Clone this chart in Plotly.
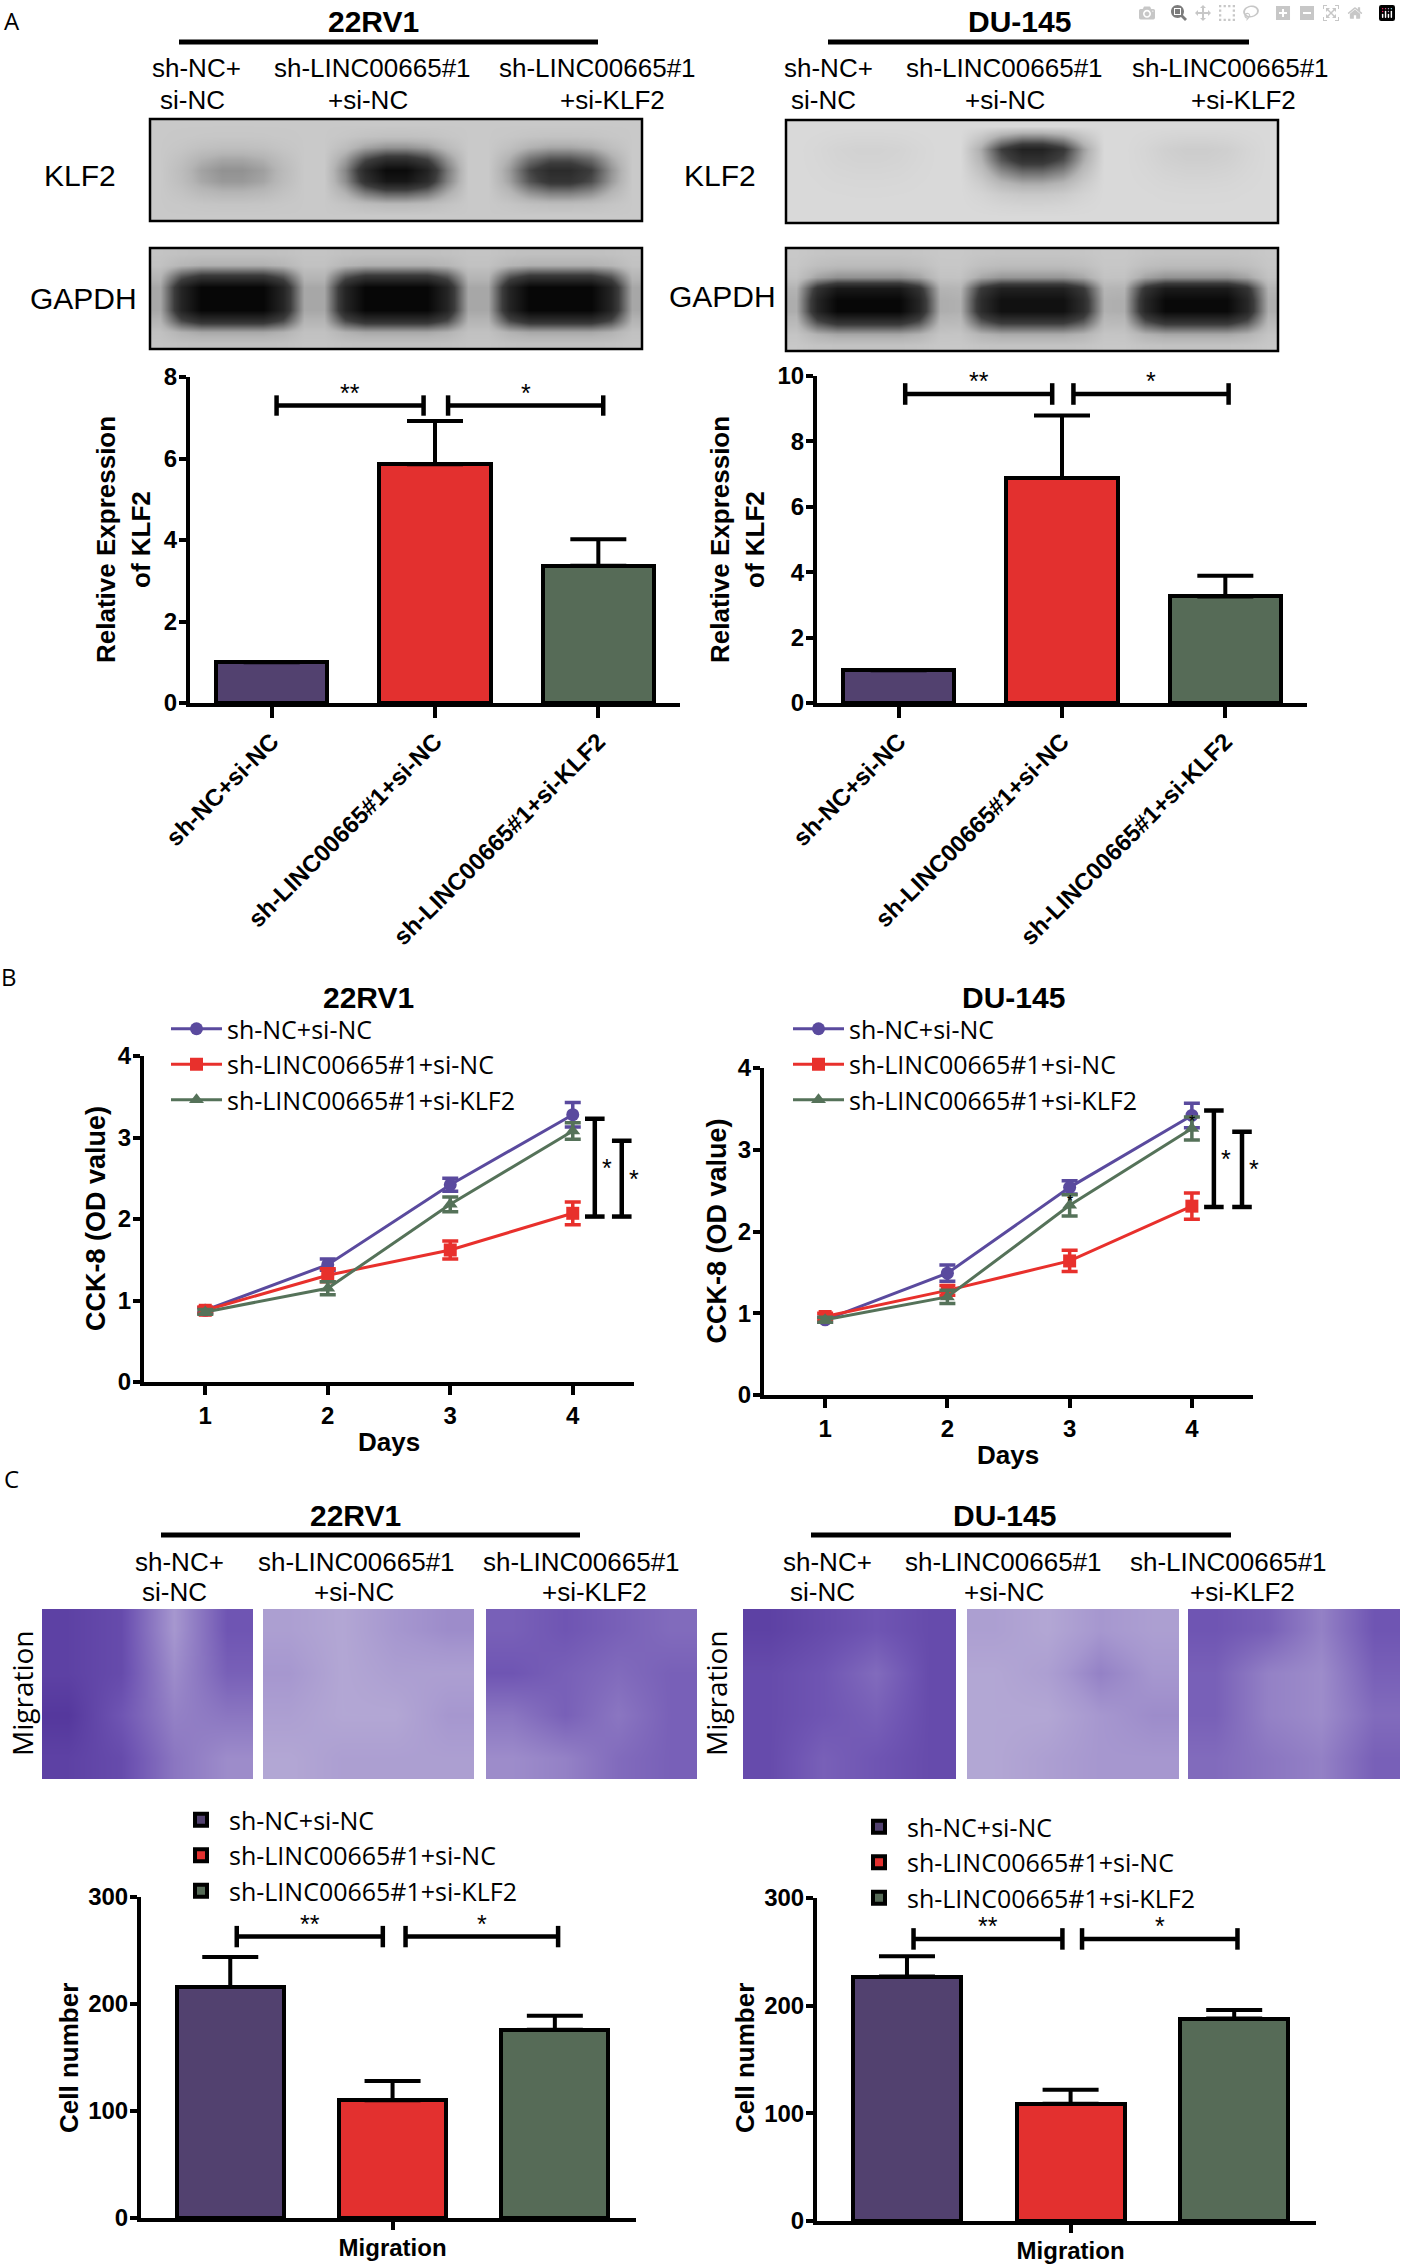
import plotly.graph_objects as go

W, H = 1401, 2266
SANS = "Liberation Sans, Arial, sans-serif"
LEG = "Open Sans, sans-serif"

groups = ["sh-NC+si-NC", "sh-LINC00665#1+si-NC", "sh-LINC00665#1+si-KLF2"]
lane_top = ["sh-NC+", "sh-LINC00665#1", "sh-LINC00665#1"]
lane_bottom = ["si-NC", "+si-NC", "+si-KLF2"]
bar_colors = ["#52416f", "#e3302f", "#566b57"]
line_colors = ["#5a4a9e", "#e8302c", "#557259"]
line_symbols = ["circle", "square", "triangle-up"]

# western blot band intensity per lane (0 = no band, 1 = saturated)
wb_klf2_22rv1 = [0.25, 0.97, 0.7]
wb_gapdh_22rv1 = [1.0, 1.0, 1.0]
wb_klf2_du145 = [0.04, 0.8, 0.07]
wb_gapdh_du145 = [1.0, 0.92, 0.98]

# relative expression of KLF2 (mean, SD)
klf2_22rv1 = [1.0, 5.86, 3.37]
klf2_22rv1_sd = [0.0, 1.06, 0.65]
klf2_du145 = [1.0, 6.88, 3.26]
klf2_du145_sd = [0.0, 1.91, 0.63]

# CCK-8 OD values
days = [1, 2, 3, 4]
cck8_22rv1 = [[0.88, 1.44, 2.42, 3.28], [0.88, 1.31, 1.62, 2.07], [0.86, 1.15, 2.18, 3.08]]
cck8_22rv1_sd = [[0.03, 0.07, 0.08, 0.15], [0.04, 0.08, 0.11, 0.14], [0.03, 0.08, 0.09, 0.10]]
cck8_du145 = [[0.92, 1.49, 2.54, 3.42], [0.96, 1.28, 1.64, 2.31], [0.92, 1.20, 2.32, 3.26]]
cck8_du145_sd = [[0.03, 0.10, 0.08, 0.15], [0.04, 0.06, 0.13, 0.16], [0.03, 0.08, 0.13, 0.14]]

# transwell crystal-violet density, coarse 4x4 reading of each photo (top row first)
stain_22rv1 = [
    [[0.85, 0.80, 0.45, 0.75], [0.85, 0.80, 0.50, 0.70], [0.90, 0.75, 0.55, 0.60], [0.85, 0.80, 0.60, 0.50]],
    [[0.40, 0.35, 0.45, 0.50], [0.45, 0.35, 0.40, 0.40], [0.40, 0.35, 0.35, 0.45], [0.35, 0.40, 0.40, 0.40]],
    [[0.70, 0.75, 0.70, 0.65], [0.75, 0.70, 0.65, 0.70], [0.60, 0.70, 0.60, 0.70], [0.50, 0.55, 0.65, 0.70]],
]
stain_du145 = [
    [[0.85, 0.80, 0.75, 0.80], [0.80, 0.75, 0.65, 0.80], [0.80, 0.75, 0.70, 0.80], [0.80, 0.70, 0.75, 0.80]],
    [[0.40, 0.35, 0.45, 0.40], [0.35, 0.40, 0.55, 0.45], [0.35, 0.35, 0.45, 0.50], [0.35, 0.40, 0.45, 0.45]],
    [[0.75, 0.70, 0.55, 0.75], [0.70, 0.55, 0.50, 0.70], [0.70, 0.55, 0.50, 0.65], [0.65, 0.60, 0.55, 0.70]],
]

# migrated cell number (mean, SD)
mig_22rv1 = [216, 110, 176]
mig_22rv1_sd = [28, 18, 13]
mig_du145 = [227, 109, 188]
mig_du145_sd = [19, 13, 8]

# significance: (from, to, level, label)
sig_klf2_22rv1 = [(0.03, 0.93, 7.3, "**"), (1.08, 2.03, 7.3, "*")]
sig_klf2_du145 = [(0.04, 0.94, 9.45, "**"), (1.07, 2.02, 9.45, "*")]
sig_mig_22rv1 = [(-0.96, -0.06, 263, "**"), (0.08, 1.02, 263, "*")]
sig_mig_du145 = [(-0.96, -0.05, 262, "**"), (0.07, 1.02, 262, "*")]
# vertical brackets on day 4: (x, from, to, label)
sig_cck8_22rv1 = [(4.18, 2.03, 3.23, "*"), (4.40, 2.03, 2.96, "*")]
sig_cck8_du145 = [(4.18, 2.30, 3.48, "*"), (4.41, 2.30, 3.22, "*")]

fig = go.Figure()
n_ax = 0


def axes(x0, x1, top, bottom):
    """new x/y pair placed on a pixel box"""
    global n_ax
    n_ax += 1
    s = "" if n_ax == 1 else str(n_ax)
    fig.update_layout({
        "xaxis" + s: dict(domain=[x0 / W, x1 / W], anchor="y" + s, automargin=False),
        "yaxis" + s: dict(domain=[1 - bottom / H, 1 - top / H], anchor="x" + s, automargin=False),
    })
    return "x" + s, "y" + s, s


def text(x, y, s, size, bold=False, family=SANS, angle=0, xanchor="center"):
    fig.add_annotation(
        x=x / W, y=1 - y / H, xref="paper", yref="paper", text=s, showarrow=False,
        font=dict(size=size, family=family, color="black", weight="bold" if bold else "normal"),
        textangle=angle, xanchor=xanchor, yanchor="middle",
    )


def hline(x0, x1, y, width=5):
    fig.add_shape(type="line", xref="paper", yref="paper", x0=x0 / W, x1=x1 / W,
                  y0=1 - y / H, y1=1 - y / H, line=dict(color="black", width=width))


def seg(xr, yr, x0, y0, x1, y1, width=4.5):
    fig.add_shape(type="line", xref=xr, yref=yr, x0=x0, y0=y0, x1=x1, y1=y1,
                  line=dict(color="black", width=width))


def hbracket(xr, yr, sig, cap):
    for a, b, lvl, lab in sig:
        seg(xr, yr, a, lvl, b, lvl)
        seg(xr, yr, a, lvl - cap, a, lvl + cap)
        seg(xr, yr, b, lvl - cap, b, lvl + cap)
        fig.add_annotation(x=(a + b) / 2, y=lvl, xref=xr, yref=yr, text=lab, showarrow=False,
                           yanchor="bottom", yshift=-3, font=dict(size=25, family=SANS, color="black"))


def vbracket(xr, yr, sig, cap):
    for x, a, b, lab in sig:
        seg(xr, yr, x, a, x, b)
        seg(xr, yr, x - cap, a, x + cap, a)
        seg(xr, yr, x - cap, b, x + cap, b)
        fig.add_annotation(x=x + 0.04, y=(a + b) / 2, xref=xr, yref=yr, text=lab, showarrow=False,
                           xanchor="left", font=dict(size=25, family=SANS, color="black"))


def hidden(s):
    fig.update_layout({
        "xaxis" + s: dict(range=[0, 1], visible=False, fixedrange=True),
        "yaxis" + s: dict(range=[0, 1], visible=False, fixedrange=True),
    })


def frame(s):
    xr = "x" + s + " domain" if s else "x domain"
    yr = "y" + s + " domain" if s else "y domain"
    fig.add_shape(type="rect", xref=xr, yref=yr, x0=0, x1=1, y0=0, y1=1,
                  line=dict(color="black", width=2.5))


bold_tick = dict(size=24, family=SANS, color="black", weight="bold")
ax_style = dict(showline=True, linewidth=4, linecolor="black", ticks="outside", ticklen=9,
                tickwidth=4, tickcolor="black", showgrid=False, zeroline=False, tickfont=bold_tick,
                automargin=False)
y_style = dict(ax_style, ticklen=7, ticklabelstandoff=-3)


def legend_style(x, y, itemwidth):
    return dict(x=x / W, y=1 - y / H, xanchor="left", yanchor="top", bgcolor="rgba(0,0,0,0)",
                font=dict(family=LEG, size=25, color="black"),
                itemwidth=itemwidth, tracegroupgap=0, traceorder="normal")


# ---------------- A: western blots ----------------
band_cols_klf2 = [0.0, 0.3, 0.75, 1.0, 1.0, 0.8, 0.35, 0.0]
band_cols_gapdh = [0.15, 0.75, 1.0, 1.0, 1.0, 1.0, 0.75, 0.15]
rows_klf2_22rv1 = [0.0, 0.05, 0.25, 0.7, 1.0, 0.9, 0.45, 0.1, 0.0]
rows_klf2_du145 = [0.0, 0.45, 1.0, 0.85, 0.55, 0.3, 0.12, 0.04, 0.0]
rows_gapdh_22rv1 = [0.03, 0.12, 0.6, 1.0, 1.0, 1.0, 0.65, 0.15, 0.03]
rows_gapdh_du145 = [0.03, 0.08, 0.25, 0.85, 1.0, 1.0, 0.65, 0.18, 0.04]
blot_scale = [[0, "#f2f2f2"], [0.3, "#b4b4b4"], [0.65, "#3c3c3c"], [1, "#070707"]]


def blot(box, lanes, bg, rows, cols):
    xr, yr, s = axes(*box)
    hidden(s)
    ncol = len(cols) * len(lanes)
    z = [[bg + (1 - bg) * lane * r * c for lane in lanes for c in cols] for r in rows]
    fig.add_trace(go.Heatmap(
        z=z, x=[(i + 0.5) / ncol for i in range(ncol)],
        y=[1 - (i + 0.5) / len(rows) for i in range(len(rows))],
        colorscale=blot_scale, zmin=0, zmax=1, zsmooth="best", showscale=False,
        hoverinfo="skip", xaxis=xr, yaxis=yr,
    ))
    frame(s)


blot((150, 642, 119, 221), wb_klf2_22rv1, 0.2, rows_klf2_22rv1, band_cols_klf2)
blot((150, 642, 248, 349), wb_gapdh_22rv1, 0.22, rows_gapdh_22rv1, band_cols_gapdh)
blot((786, 1278, 120, 223), wb_klf2_du145, 0.12, rows_klf2_du145, band_cols_klf2)
blot((786, 1278, 248, 351), wb_gapdh_du145, 0.2, rows_gapdh_du145, band_cols_gapdh)

text(12, 20, "A", 24, family=LEG)
text(373, 22, "22RV1", 30, bold=True)
hline(179, 598, 42)
text(1020, 22, "DU-145", 30, bold=True)
hline(828, 1249, 42)
for cx_top, cx_bot, lt, lb in zip([196, 372, 597], [192, 368, 612], lane_top, lane_bottom):
    text(cx_top, 68, lt, 26)
    text(cx_bot, 100, lb, 26)
for cx_top, cx_bot, lt, lb in zip([828, 1004, 1230], [823, 1005, 1243], lane_top, lane_bottom):
    text(cx_top, 68, lt, 26)
    text(cx_bot, 100, lb, 26)
text(80, 175, "KLF2", 30)
text(83, 298, "GAPDH", 30)
text(720, 175, "KLF2", 30)
text(722, 296, "GAPDH", 30)

# ---------------- A: KLF2 bar charts ----------------
def klf2_bars(box, vals, sd, ymax, sig, cap, title_x):
    xr, yr, s = axes(*box)
    fig.add_trace(go.Bar(
        x=list(range(len(vals))), y=vals, width=0.68,
        marker=dict(color=bar_colors, line=dict(color="black", width=4)),
        error_y=dict(type="data", array=sd, arrayminus=[0] * len(sd), symmetric=False,
                     color="black", thickness=4, width=28),
        showlegend=False, xaxis=xr, yaxis=yr,
    ))
    fig.update_layout({
        "xaxis" + s: dict(ax_style, range=[-0.5, 2.5], tickvals=list(range(len(groups))),
                          ticktext=groups, tickangle=-45, ticklen=11),
        "yaxis" + s: dict(y_style, range=[0, ymax], dtick=2),
    })
    hbracket(xr, yr, sig, cap)
    text(title_x[0], 540, "Relative Expression", 26, bold=True, angle=-90)
    text(title_x[1], 540, "of KLF2", 26, bold=True, angle=-90)


klf2_bars((190, 680, 377, 703), klf2_22rv1, klf2_22rv1_sd, 8, sig_klf2_22rv1, 0.25, (106, 141))
klf2_bars((817, 1307, 376, 703), klf2_du145, klf2_du145_sd, 10, sig_klf2_du145, 0.33, (720, 755))

# ---------------- B: CCK-8 curves ----------------
def cck8(box, series, sds, sig, legend_id, legend_pos, title, title_x, ytitle_x, days_y):
    xr, yr, s = axes(*box)
    for g, vals, sd, c, sym in zip(groups, series, sds, line_colors, line_symbols):
        fig.add_trace(go.Scatter(
            x=days, y=vals, mode="lines+markers", name=g, legend=legend_id,
            line=dict(color=c, width=3), marker=dict(symbol=sym, size=13, color=c),
            error_y=dict(type="data", array=sd, color=c, thickness=3.5, width=8),
            xaxis=xr, yaxis=yr,
        ))
    fig.update_layout({
        "xaxis" + s: dict(ax_style, range=[0.5, 4.5], tickvals=days),
        "yaxis" + s: dict(y_style, range=[0, 4], dtick=1),
        legend_id: legend_style(legend_pos[0], legend_pos[1], 51),
    })
    vbracket(xr, yr, sig, 0.08)
    text(title_x, 997, title, 30, bold=True)
    text(ytitle_x, (box[2] + box[3]) / 2, "CCK-8 (OD value)", 27, bold=True, angle=-90)
    text((box[0] + box[1]) / 2, days_y, "Days", 26, bold=True)


cck8((144, 634, 1056, 1382), cck8_22rv1, cck8_22rv1_sd, sig_cck8_22rv1, "legend", (166, 1006),
     "22RV1", 368, 96, 1442)
cck8((764, 1253, 1068, 1395), cck8_du145, cck8_du145_sd, sig_cck8_du145, "legend2", (788, 1006),
     "DU-145", 1013, 716, 1455)
text(9, 977, "B", 24, family=LEG)
# small marks printed on the DU-145 curves
for d, v in [(3, 2.37), (4, 3.35)]:
    fig.add_annotation(x=d, y=v, xref="x8", yref="y8", text="*", showarrow=False,
                       font=dict(size=16, family=SANS, color="black"))

# ---------------- C: transwell photos ----------------
stain_scale = [[0, "#dedde5"], [0.45, "#a697cf"], [0.75, "#6f55b3"], [1, "#43248e"]]
photo_boxes = [(42, 253), (263, 474), (486, 697), (743, 956), (967, 1179), (1188, 1400)]
for (x0, x1), grid in zip(photo_boxes, stain_22rv1 + stain_du145):
    xr, yr, s = axes(x0, x1, 1609, 1779)
    hidden(s)
    fig.add_trace(go.Heatmap(
        z=grid, x=[0.125, 0.375, 0.625, 0.875], y=[0.875, 0.625, 0.375, 0.125],
        colorscale=stain_scale, zmin=0, zmax=1, zsmooth="best", showscale=False,
        hoverinfo="skip", xaxis=xr, yaxis=yr,
    ))

text(11, 1478, "C", 24, family=LEG)
text(355, 1515, "22RV1", 30, bold=True)
hline(161, 580, 1535)
text(1004, 1515, "DU-145", 30, bold=True)
hline(811, 1231, 1535)
for cx_top, cx_bot, lt, lb in zip([179, 356, 581], [174, 354, 594], lane_top, lane_bottom):
    text(cx_top, 1562, lt, 26)
    text(cx_bot, 1592, lb, 26)
for cx_top, cx_bot, lt, lb in zip([827, 1003, 1228], [822, 1004, 1242], lane_top, lane_bottom):
    text(cx_top, 1562, lt, 26)
    text(cx_bot, 1592, lb, 26)
text(22, 1693, "Migration", 28, family=LEG, angle=-90)
text(716, 1693, "Migration", 28, family=LEG, angle=-90)


# ---------------- C: migration bar charts ----------------
def mig_bars(box, vals, sd, sig, legend_id, legend_pos, ytitle_x):
    xr, yr, s = axes(*box)
    for i, (g, v, e, c) in enumerate(zip(groups, vals, sd, bar_colors)):
        fig.add_trace(go.Bar(
            x=[i - 1], y=[v], width=0.66, name=g, legend=legend_id,
            marker=dict(color=c, line=dict(color="black", width=4)),
            error_y=dict(type="data", array=[e], arrayminus=[0], symmetric=False,
                         color="black", thickness=4, width=28),
            xaxis=xr, yaxis=yr,
        ))
    fig.update_layout({
        "xaxis" + s: dict(ax_style, range=[-1.55, 1.5], tickvals=[0], ticktext=["Migration"],
                          ticklen=8, ticklabelstandoff=-3),
        "yaxis" + s: dict(y_style, range=[0, 300], dtick=100),
        legend_id: legend_style(legend_pos[0], legend_pos[1], 46),
    })
    hbracket(xr, yr, sig, 10)
    text(ytitle_x, 2058, "Cell number", 26, bold=True, angle=-90)


mig_bars((141, 636, 1897, 2218), mig_22rv1, mig_22rv1_sd, sig_mig_22rv1, "legend3", (173, 1797), 69)
mig_bars((817, 1316, 1898, 2221), mig_du145, mig_du145_sd, sig_mig_du145, "legend4", (851, 1804), 745)

fig.update_layout(
    template="none",
    width=W, height=H, autosize=False,
    margin=dict(l=0, r=0, t=0, b=0, pad=0),
    paper_bgcolor="white", plot_bgcolor="white",
    barmode="overlay", bargap=0,
    font=dict(family=SANS, color="black"),
)

fig.write_html("out.html", post_script="document.body.style.margin='0';")
